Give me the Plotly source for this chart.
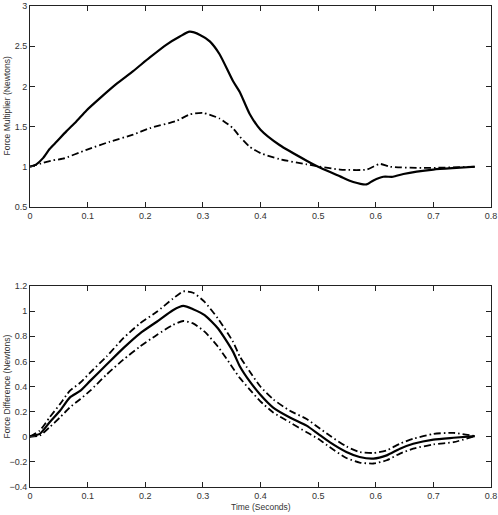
import plotly.graph_objects as go

# ---- top panel: force multiplier ----
t_top_solid = [0.0, 0.011, 0.023, 0.034, 0.046, 0.063, 0.080, 0.098, 0.121, 0.150, 0.179, 0.208,
               0.237, 0.260, 0.277, 0.295, 0.312, 0.329, 0.352, 0.364, 0.381, 0.400, 0.433, 0.480,
               0.500, 0.538, 0.561, 0.584, 0.596, 0.613, 0.630, 0.648, 0.700, 0.740, 0.772]
top_solid = [1.0, 1.03, 1.11, 1.22, 1.31, 1.44, 1.56, 1.70, 1.85, 2.03, 2.19, 2.36,
             2.52, 2.62, 2.68, 2.64, 2.56, 2.40, 2.07, 1.93, 1.66, 1.46, 1.27, 1.075,
             1.0, 0.88, 0.81, 0.78, 0.83, 0.875, 0.875, 0.91, 0.965, 0.985, 1.0]

t_top_dash = [0.0, 0.0226, 0.040, 0.057, 0.098, 0.138, 0.179, 0.208, 0.254, 0.277, 0.300, 0.329,
              0.352, 0.364, 0.381, 0.400, 0.433, 0.480, 0.538, 0.584, 0.607, 0.625, 0.683, 0.772]
top_dash = [1.0, 1.047, 1.08, 1.10, 1.21, 1.31, 1.40, 1.48, 1.57, 1.65, 1.67, 1.60,
            1.48, 1.375, 1.25, 1.17, 1.095, 1.03, 0.965, 0.965, 1.035, 1.0, 0.985, 1.0]

# ---- bottom panel: force difference ----
t_bot = [0.0, 0.017, 0.034, 0.052, 0.069, 0.087, 0.104, 0.133, 0.162, 0.191, 0.220, 0.248,
         0.266, 0.283, 0.303, 0.326, 0.352, 0.364, 0.381, 0.399, 0.422, 0.451, 0.480, 0.500,
         0.520, 0.549, 0.572, 0.596, 0.619, 0.642, 0.665, 0.700, 0.735, 0.772]
bot_mean = [0.005, 0.023, 0.115, 0.207, 0.312, 0.365, 0.443, 0.575, 0.706, 0.824, 0.916, 1.008,
            1.042, 1.016, 0.969, 0.864, 0.68, 0.562, 0.443, 0.339, 0.233, 0.154, 0.089, 0.023,
            -0.043, -0.121, -0.161, -0.174, -0.148, -0.095, -0.056, -0.022, -0.008, 0.005]
bot_upper = [0.0, 0.05, 0.154, 0.26, 0.365, 0.43, 0.509, 0.64, 0.785, 0.903, 0.995, 1.10,
             1.158, 1.147, 1.074, 0.942, 0.759, 0.64, 0.522, 0.404, 0.299, 0.207, 0.142, 0.076,
             0.01, -0.077, -0.121, -0.129, -0.108, -0.055, -0.016, 0.023, 0.031, 0.005]
bot_lower = [0.0, 0.01, 0.076, 0.154, 0.233, 0.299, 0.365, 0.496, 0.614, 0.719, 0.811, 0.89,
             0.922, 0.903, 0.837, 0.719, 0.548, 0.469, 0.378, 0.286, 0.194, 0.115, 0.036, -0.016,
             -0.082, -0.169, -0.205, -0.213, -0.187, -0.134, -0.095, -0.061, -0.043, 0.005]

x_ticks = [0, 0.1, 0.2, 0.3, 0.4, 0.5, 0.6, 0.7, 0.8]
top_yticks = [0.5, 1, 1.5, 2, 2.5, 3]
bot_yticks = [-0.4, -0.2, 0, 0.2, 0.4, 0.6, 0.8, 1, 1.2]

DASHDOT = "7px,3px,1.5px,3px"
FONT = "Liberation Sans, Arial, sans-serif"

fig = go.Figure()
fig.add_trace(go.Scatter(x=t_top_solid, y=top_solid, mode="lines", line=dict(color="black", width=2.2, shape="spline", smoothing=0.6), xaxis="x", yaxis="y"))
fig.add_trace(go.Scatter(x=t_top_dash, y=top_dash, mode="lines", line=dict(color="black", width=1.8, dash=DASHDOT, shape="spline", smoothing=0.6), xaxis="x", yaxis="y"))
fig.add_trace(go.Scatter(x=t_bot, y=bot_upper, mode="lines", line=dict(color="black", width=1.8, dash=DASHDOT, shape="spline", smoothing=0.6), xaxis="x2", yaxis="y2"))
fig.add_trace(go.Scatter(x=t_bot, y=bot_mean, mode="lines", line=dict(color="black", width=2.2, shape="spline", smoothing=0.6), xaxis="x2", yaxis="y2"))
fig.add_trace(go.Scatter(x=t_bot, y=bot_lower, mode="lines", line=dict(color="black", width=1.8, dash=DASHDOT, shape="spline", smoothing=0.6), xaxis="x2", yaxis="y2"))

ax_common = dict(showline=True, linecolor="#222", linewidth=1, mirror="ticks", ticks="inside",
                 ticklen=5, tickcolor="#222", showgrid=False, zeroline=False,
                 tickfont=dict(family=FONT, size=9, color="#333"))

H = 515
mt, mb = 1, 28
ph = H - mt - mb
top_dom = [(H - mb - 204) / ph, 1.0]
bot_dom = [0.0, (H - mb - 284) / ph]

fig.update_layout(
    width=498, height=515, margin=dict(l=30, r=7, t=mt, b=mb),
    paper_bgcolor="white", plot_bgcolor="white", showlegend=False,
    xaxis=dict(domain=[0, 1], range=[0, 0.8], tickvals=x_ticks, anchor="y", **ax_common),
    yaxis=dict(domain=top_dom, range=[0.5, 3], tickvals=top_yticks, anchor="x", **ax_common),
    xaxis2=dict(domain=[0, 1], range=[0, 0.8], tickvals=x_ticks, anchor="y2", **ax_common),
    yaxis2=dict(domain=bot_dom, range=[-0.4, 1.2], tickvals=bot_yticks, anchor="x2", **ax_common),
    annotations=[
        dict(text="Force Multiplier (Newtons)", xref="paper", yref="y", x=-23 / 461, y=1.75,
             textangle=-90, showarrow=False, xanchor="center", yanchor="middle",
             font=dict(family=FONT, size=8.5, color="#333")),
        dict(text="Force Difference (Newtons)", xref="paper", yref="y2", x=-23 / 461, y=0.4,
             textangle=-90, showarrow=False, xanchor="center", yanchor="middle",
             font=dict(family=FONT, size=8.5, color="#333")),
        dict(text="Time (Seconds)", xref="paper", yref="paper", x=0.5, y=(H - mb - 507) / ph,
             showarrow=False, xanchor="center", yanchor="middle",
             font=dict(family=FONT, size=8.5, color="#333")),
    ],
)

fig.write_html("out.html")
